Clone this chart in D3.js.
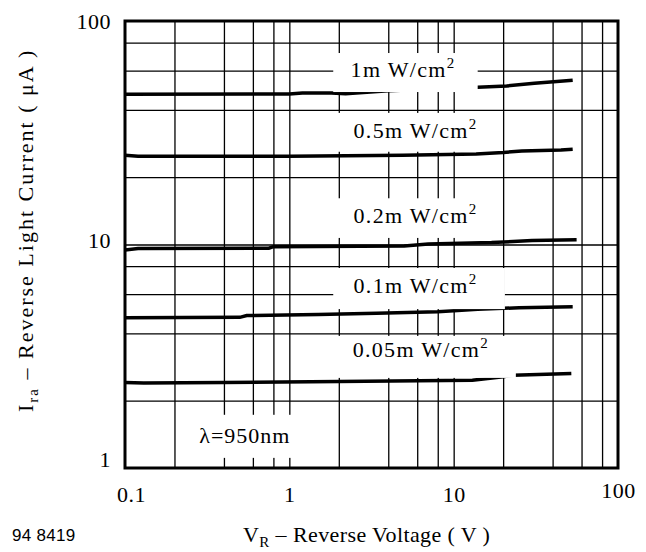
<!DOCTYPE html>
<html>
<head>
<meta charset="utf-8">
<script src="https://cdn.jsdelivr.net/npm/d3@7"></script>
<style>
  body { margin: 0; background: #fff; }
  svg { display: block; }
</style>
</head>
<body>
<script>
'use strict';

// axis ticks and grid
const voltageTicks = [0.1, 1, 10, 100];
const currentTicks = [1, 10, 100];
const voltageGrid = [0.2, 0.4, 0.6, 0.8, 1, 2, 4, 6, 8, 10, 20, 40, 60, 80];
const currentGrid = [2, 4, 6, 8, 10, 20, 40, 60, 80];

// irradiance (mW/cm2) of each curve
const irradiance = ['1', '0.5', '0.2', '0.1', '0.05'];

// [reverse voltage V, reverse light current uA]
const curve1 = [[0.1, 47], [1, 47.1], [1.2, 47.6], [1.8, 47.6], [2.2, 47.3], [4, 48.8], [8, 49.8], [14, 50.5], [21, 51.2], [31, 52.6], [53, 54.3]];
const curve05 = [[0.1, 25.1], [0.12, 24.8], [1, 24.8], [4.9, 25.1], [13.7, 25.4], [20, 25.8], [26, 26.2], [45, 26.5], [53, 26.7]];
const curve02 = [[0.1, 9.45], [0.12, 9.6], [0.75, 9.62], [0.8, 9.78], [5, 9.85], [7, 10.05], [17, 10.2], [30, 10.42], [56, 10.5]];
const curve01 = [[0.1, 4.7], [0.5, 4.72], [0.55, 4.81], [1.5, 4.86], [3.4, 4.93], [8, 5.0], [14, 5.13], [25, 5.21], [53, 5.27]];
const curve005 = [[0.1, 2.41], [0.13, 2.4], [0.4, 2.41], [2, 2.44], [13, 2.47], [20, 2.56], [23, 2.6], [52, 2.65]];

const curves = [curve1, curve05, curve02, curve01, curve005];

const W = 646, H = 552;
const margin = { top: 21, left: 125 };
const width = 493, height = 447;
const serif = '"Liberation Serif", "Times New Roman", serif';

const svg = d3.select('body').append('svg')
  .attr('width', W)
  .attr('height', H);

const x = d3.scaleLog().domain([0.1, 100]).range([0, width]);
const y = d3.scaleLog().domain([1, 100]).range([height, 0]);

const chart = svg.append('g')
  .attr('transform', `translate(${margin.left}, ${margin.top})`);

// grid
const vGrid = chart.append('g')
  .attr('transform', `translate(0, ${height})`)
  .call(d3.axisBottom(x).tickValues(voltageGrid).tickSize(-height).tickFormat(''));
const hGrid = chart.append('g')
  .call(d3.axisLeft(y).tickValues(currentGrid).tickSize(-width).tickFormat(''));
[vGrid, hGrid].forEach(function (gr) {
  gr.select('.domain').remove();
  gr.selectAll('line').attr('stroke', '#000').attr('stroke-width', 1.3);
});

// curves
const line = d3.line()
  .x(function (d) { return x(d[0]); })
  .y(function (d) { return y(d[1]); });

chart.selectAll('.curve')
  .data(curves)
  .enter().append('path')
    .attr('class', 'curve')
    .attr('d', line)
    .attr('fill', 'none')
    .attr('stroke', '#000')
    .attr('stroke-width', 3.5);

// label boxes: [v0, v1, i top, i bottom], text at [v, i]
const labelLayout = [
  { box: [1.85, 14.0, 71.9, 48.1], at: [2.36, 56.2] },
  { box: [1.85, 14.6, 38.8, 26.0], at: [2.46, 30.0] },
  { box: [1.85, 19.4, 16.1, 10.7], at: [2.46, 12.5] },
  { box: [1.85, 20.5, 7.85, 5.14], at: [2.46, 6.07] },
  { box: [1.85, 23.9, 3.9, 2.53], at: [2.43, 3.14] }
];

const labels = chart.selectAll('.irr')
  .data(irradiance)
  .enter().append('g')
    .attr('class', 'irr');

labels.append('rect')
  .attr('x', function (d, i) { return x(labelLayout[i].box[0]); })
  .attr('width', function (d, i) { return x(labelLayout[i].box[1]) - x(labelLayout[i].box[0]); })
  .attr('y', function (d, i) { return y(labelLayout[i].box[2]); })
  .attr('height', function (d, i) { return y(labelLayout[i].box[3]) - y(labelLayout[i].box[2]); })
  .attr('fill', '#fff');

const labelText = labels.append('text')
  .attr('x', function (d, i) { return x(labelLayout[i].at[0]); })
  .attr('y', function (d, i) { return y(labelLayout[i].at[1]); })
  .attr('font-family', serif)
  .attr('font-size', 22)
  .attr('letter-spacing', 1.3)
  .attr('fill', '#000');
labelText.append('tspan').text(function (d) { return d + 'm W/cm'; });
labelText.append('tspan').attr('font-size', 15).attr('dy', -9).text('2');

// wavelength note
chart.append('rect')
  .attr('x', x(0.216))
  .attr('width', x(1.91) - x(0.216))
  .attr('y', y(1.73))
  .attr('height', y(1.11) - y(1.73))
  .attr('fill', '#fff');
chart.append('text')
  .attr('x', x(0.283))
  .attr('y', y(1.29))
  .attr('font-family', serif)
  .attr('font-size', 22)
  .attr('letter-spacing', 1)
  .text('λ=950nm');

// frame
chart.append('rect')
  .attr('width', width)
  .attr('height', height)
  .attr('fill', 'none')
  .attr('stroke', '#000')
  .attr('stroke-width', 3);

// tick labels
const xAxis = chart.append('g')
  .attr('transform', `translate(0, ${height})`)
  .call(d3.axisBottom(x).tickValues(voltageTicks).tickSize(0).tickPadding(18)
    .tickFormat(function (d) { return String(d); }));
const yAxis = chart.append('g')
  .call(d3.axisLeft(y).tickValues(currentTicks).tickSize(0).tickPadding(14)
    .tickFormat(function (d) { return String(d); }));
[xAxis, yAxis].forEach(function (ax) {
  ax.select('.domain').remove();
  ax.selectAll('text')
    .attr('font-family', serif)
    .attr('font-size', 22)
    .attr('letter-spacing', 0.5)
    .attr('fill', '#000');
});
xAxis.selectAll('text')
  .attr('dx', function (d) { return d === 0.1 ? 6 : 0; })
  .attr('dy', function (d) { return d === 100 ? '0.55em' : '0.71em'; });
yAxis.selectAll('text')
  .attr('dy', function (d) { return d === 100 ? '0.32em' : (d === 10 ? '0.15em' : '-0.05em'); });

// axis titles
const xTitle = svg.append('text')
  .attr('x', 243)
  .attr('y', 542)
  .attr('font-family', serif)
  .attr('font-size', 22)
  .attr('letter-spacing', 0.4);
xTitle.append('tspan').text('V');
xTitle.append('tspan').attr('font-size', 15).attr('dy', 5).text('R');
xTitle.append('tspan').attr('dy', -5).text(' \u2013 Reverse Voltage ( V )');

const yTitle = svg.append('text')
  .attr('transform', 'translate(33, 412) rotate(-90)')
  .attr('font-family', serif)
  .attr('font-size', 22)
  .attr('letter-spacing', 2);
yTitle.append('tspan').text('I');
yTitle.append('tspan').attr('font-size', 15).attr('dy', 5).text('ra');
yTitle.append('tspan').attr('dy', -5).text(' \u2013 Reverse Light Current ( \u03bcA )');

svg.append('text')
  .attr('x', 12)
  .attr('y', 541)
  .attr('font-family', '"Liberation Sans", Arial, sans-serif')
  .attr('font-size', 17)
  .attr('letter-spacing', 0.3)
  .text('94 8419');
</script>
</body>
</html>
